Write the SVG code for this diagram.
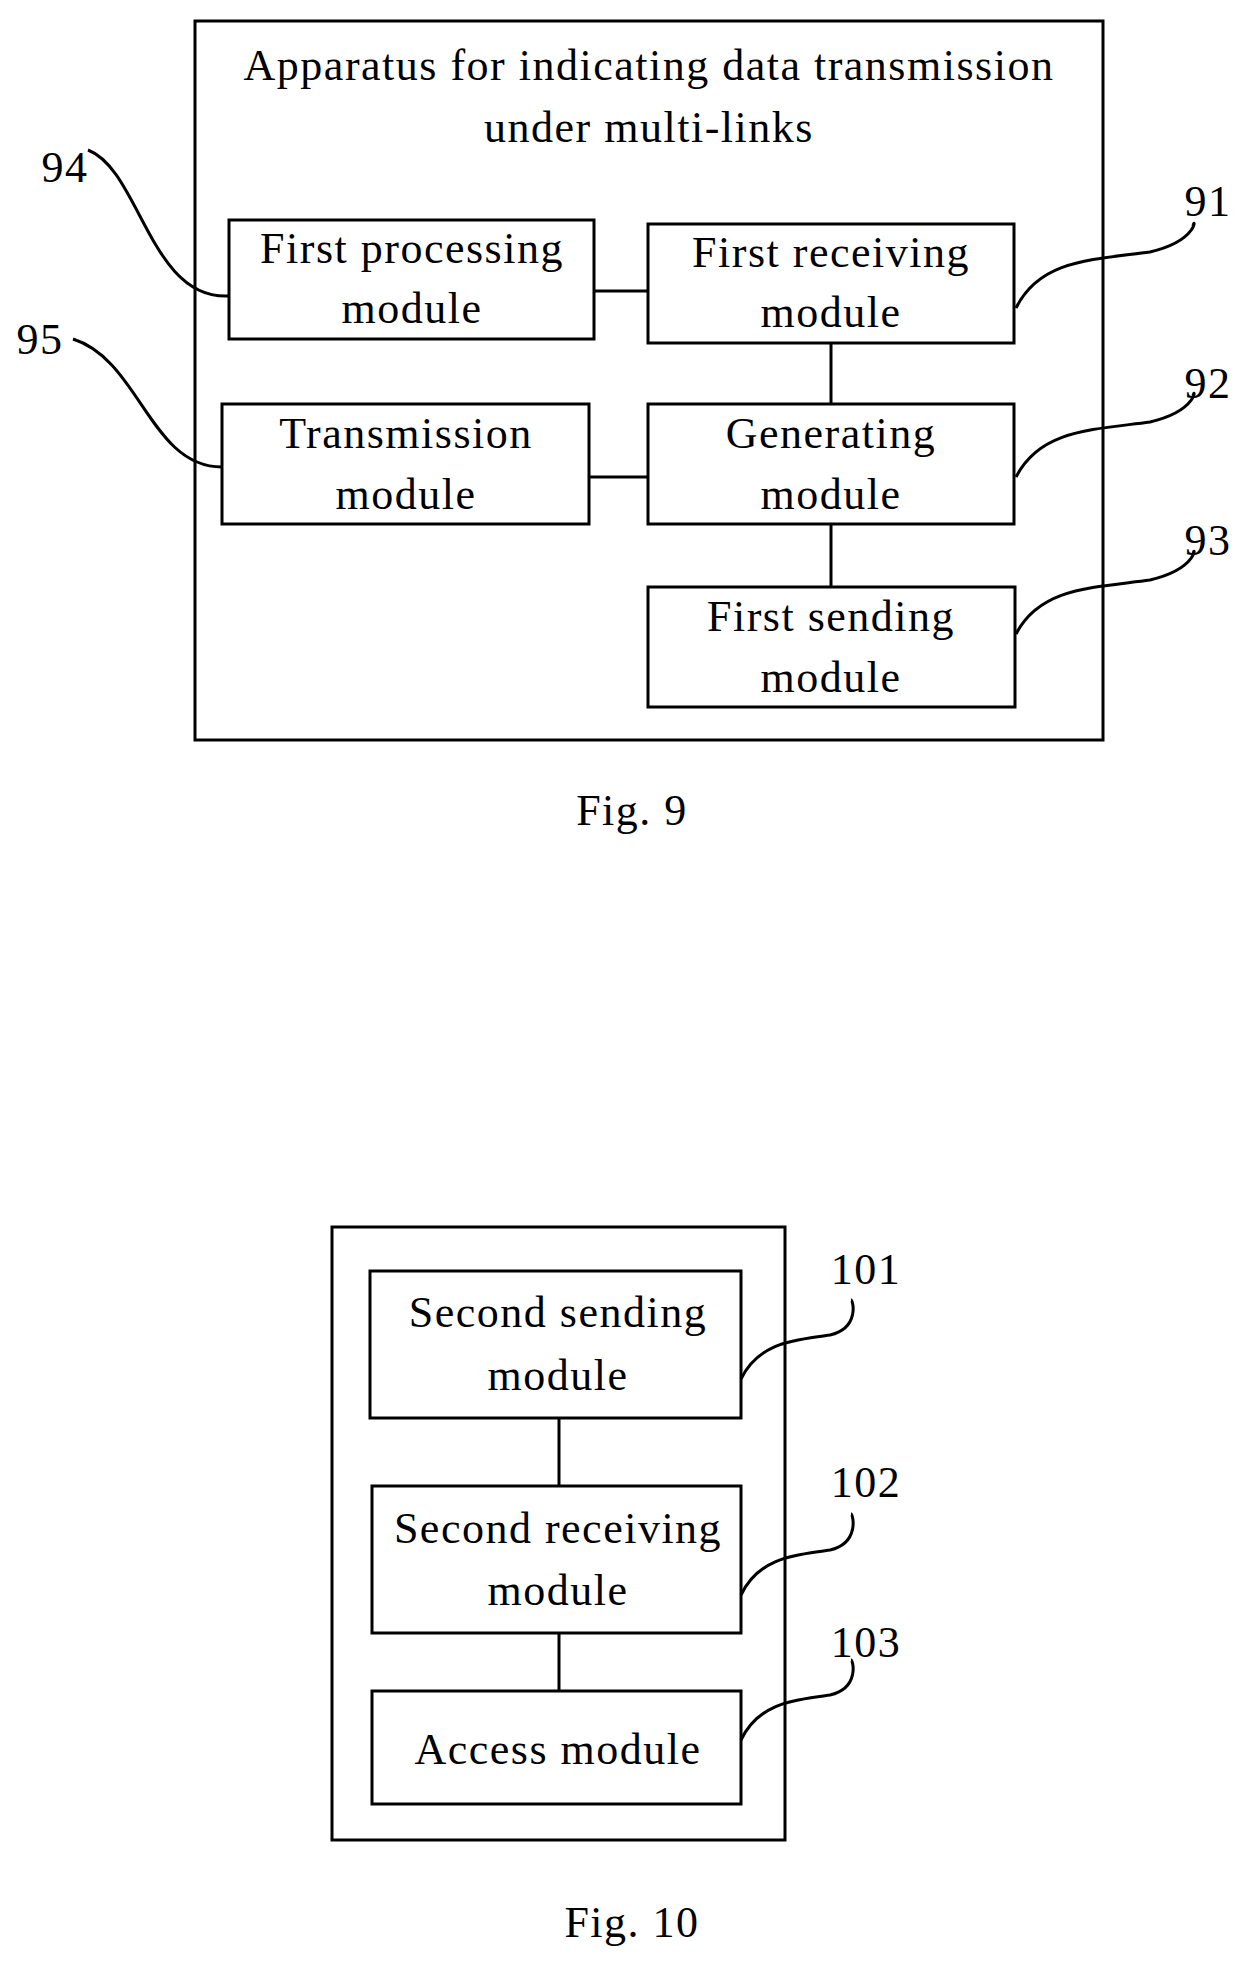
<svg xmlns="http://www.w3.org/2000/svg" width="1256" height="1977" viewBox="0 0 1256 1977">
<style>
rect{fill:none;stroke:#000;stroke-width:3}
.c{fill:none;stroke:#000;stroke-width:3}
text{font-family:"Liberation Serif",serif;font-size:44px;letter-spacing:1.5px;fill:#000;text-anchor:middle}
</style>
<rect width="1256" height="1977" style="fill:#fff;stroke:none"/>
<g id="fig9">
<rect x="195" y="21" width="908" height="719"/>
<text x="649" y="80">Apparatus for indicating data transmission</text>
<text x="649" y="142">under multi-links</text>
</g>
<g id="n94"><rect x="229" y="220" width="365" height="119"/><text x="412" y="263">First processing</text><text x="412" y="323">module</text></g>
<g id="n91"><rect x="648" y="224" width="366" height="119"/><text x="831" y="267">First receiving</text><text x="831" y="327">module</text></g>
<g id="n95"><rect x="222" y="404" width="367" height="120"/><text x="406" y="448">Transmission</text><text x="406" y="509">module</text></g>
<g id="n92"><rect x="648" y="404" width="366" height="120"/><text x="831" y="448">Generating</text><text x="831" y="509">module</text></g>
<g id="n93"><rect x="648" y="587" width="367" height="120"/><text x="831" y="631">First sending</text><text x="831" y="692">module</text></g>
<g id="fig10"><rect x="332" y="1227" width="453" height="613"/></g>
<g id="n101"><rect x="370" y="1271" width="371" height="147"/><text x="558" y="1327">Second sending</text><text x="558" y="1390">module</text></g>
<g id="n102"><rect x="372" y="1486" width="369" height="147"/><text x="558" y="1543">Second receiving</text><text x="558" y="1605">module</text></g>
<g id="n103"><rect x="372" y="1691" width="369" height="113"/><text x="558" y="1764">Access module</text></g>
<g id="connectors">
<path class="c" d="M594 291H648M831 343V404M589 477H648M831 524V587M559 1418V1486M559 1633V1691"/>
<path class="c" d="M88 150C140 170 150 300 229 296"/>
<path class="c" d="M73 339C140 360 150 467 222 467"/>
<path class="c" d="M1016 308C1040 260 1090 260 1150 252C1200 240 1195 215 1193 226"/>
<path class="c" d="M1016 477C1040 430 1090 430 1150 422C1200 410 1195 385 1193 396"/>
<path class="c" d="M1016 634C1040 588 1090 588 1150 580C1200 568 1195 543 1193 554"/>
<path class="c" d="M741 1379C760 1340 800 1340 830 1335C860 1328 853 1300 851 1300"/>
<path class="c" d="M741 1595C760 1555 800 1555 830 1550C860 1543 853 1514 851 1514"/>
<path class="c" d="M741 1740C760 1700 800 1700 830 1695C860 1688 853 1660 851 1660"/>
</g>
<g id="labels">
<text x="65" y="182">94</text><text x="40" y="354">95</text>
<text x="1208" y="216">91</text><text x="1208" y="398">92</text><text x="1208" y="555">93</text>
<text x="866" y="1284">101</text><text x="866" y="1497">102</text><text x="866" y="1657">103</text>
<text x="632" y="825">Fig. 9</text><text x="632" y="1937">Fig. 10</text>
</g>
</svg>
